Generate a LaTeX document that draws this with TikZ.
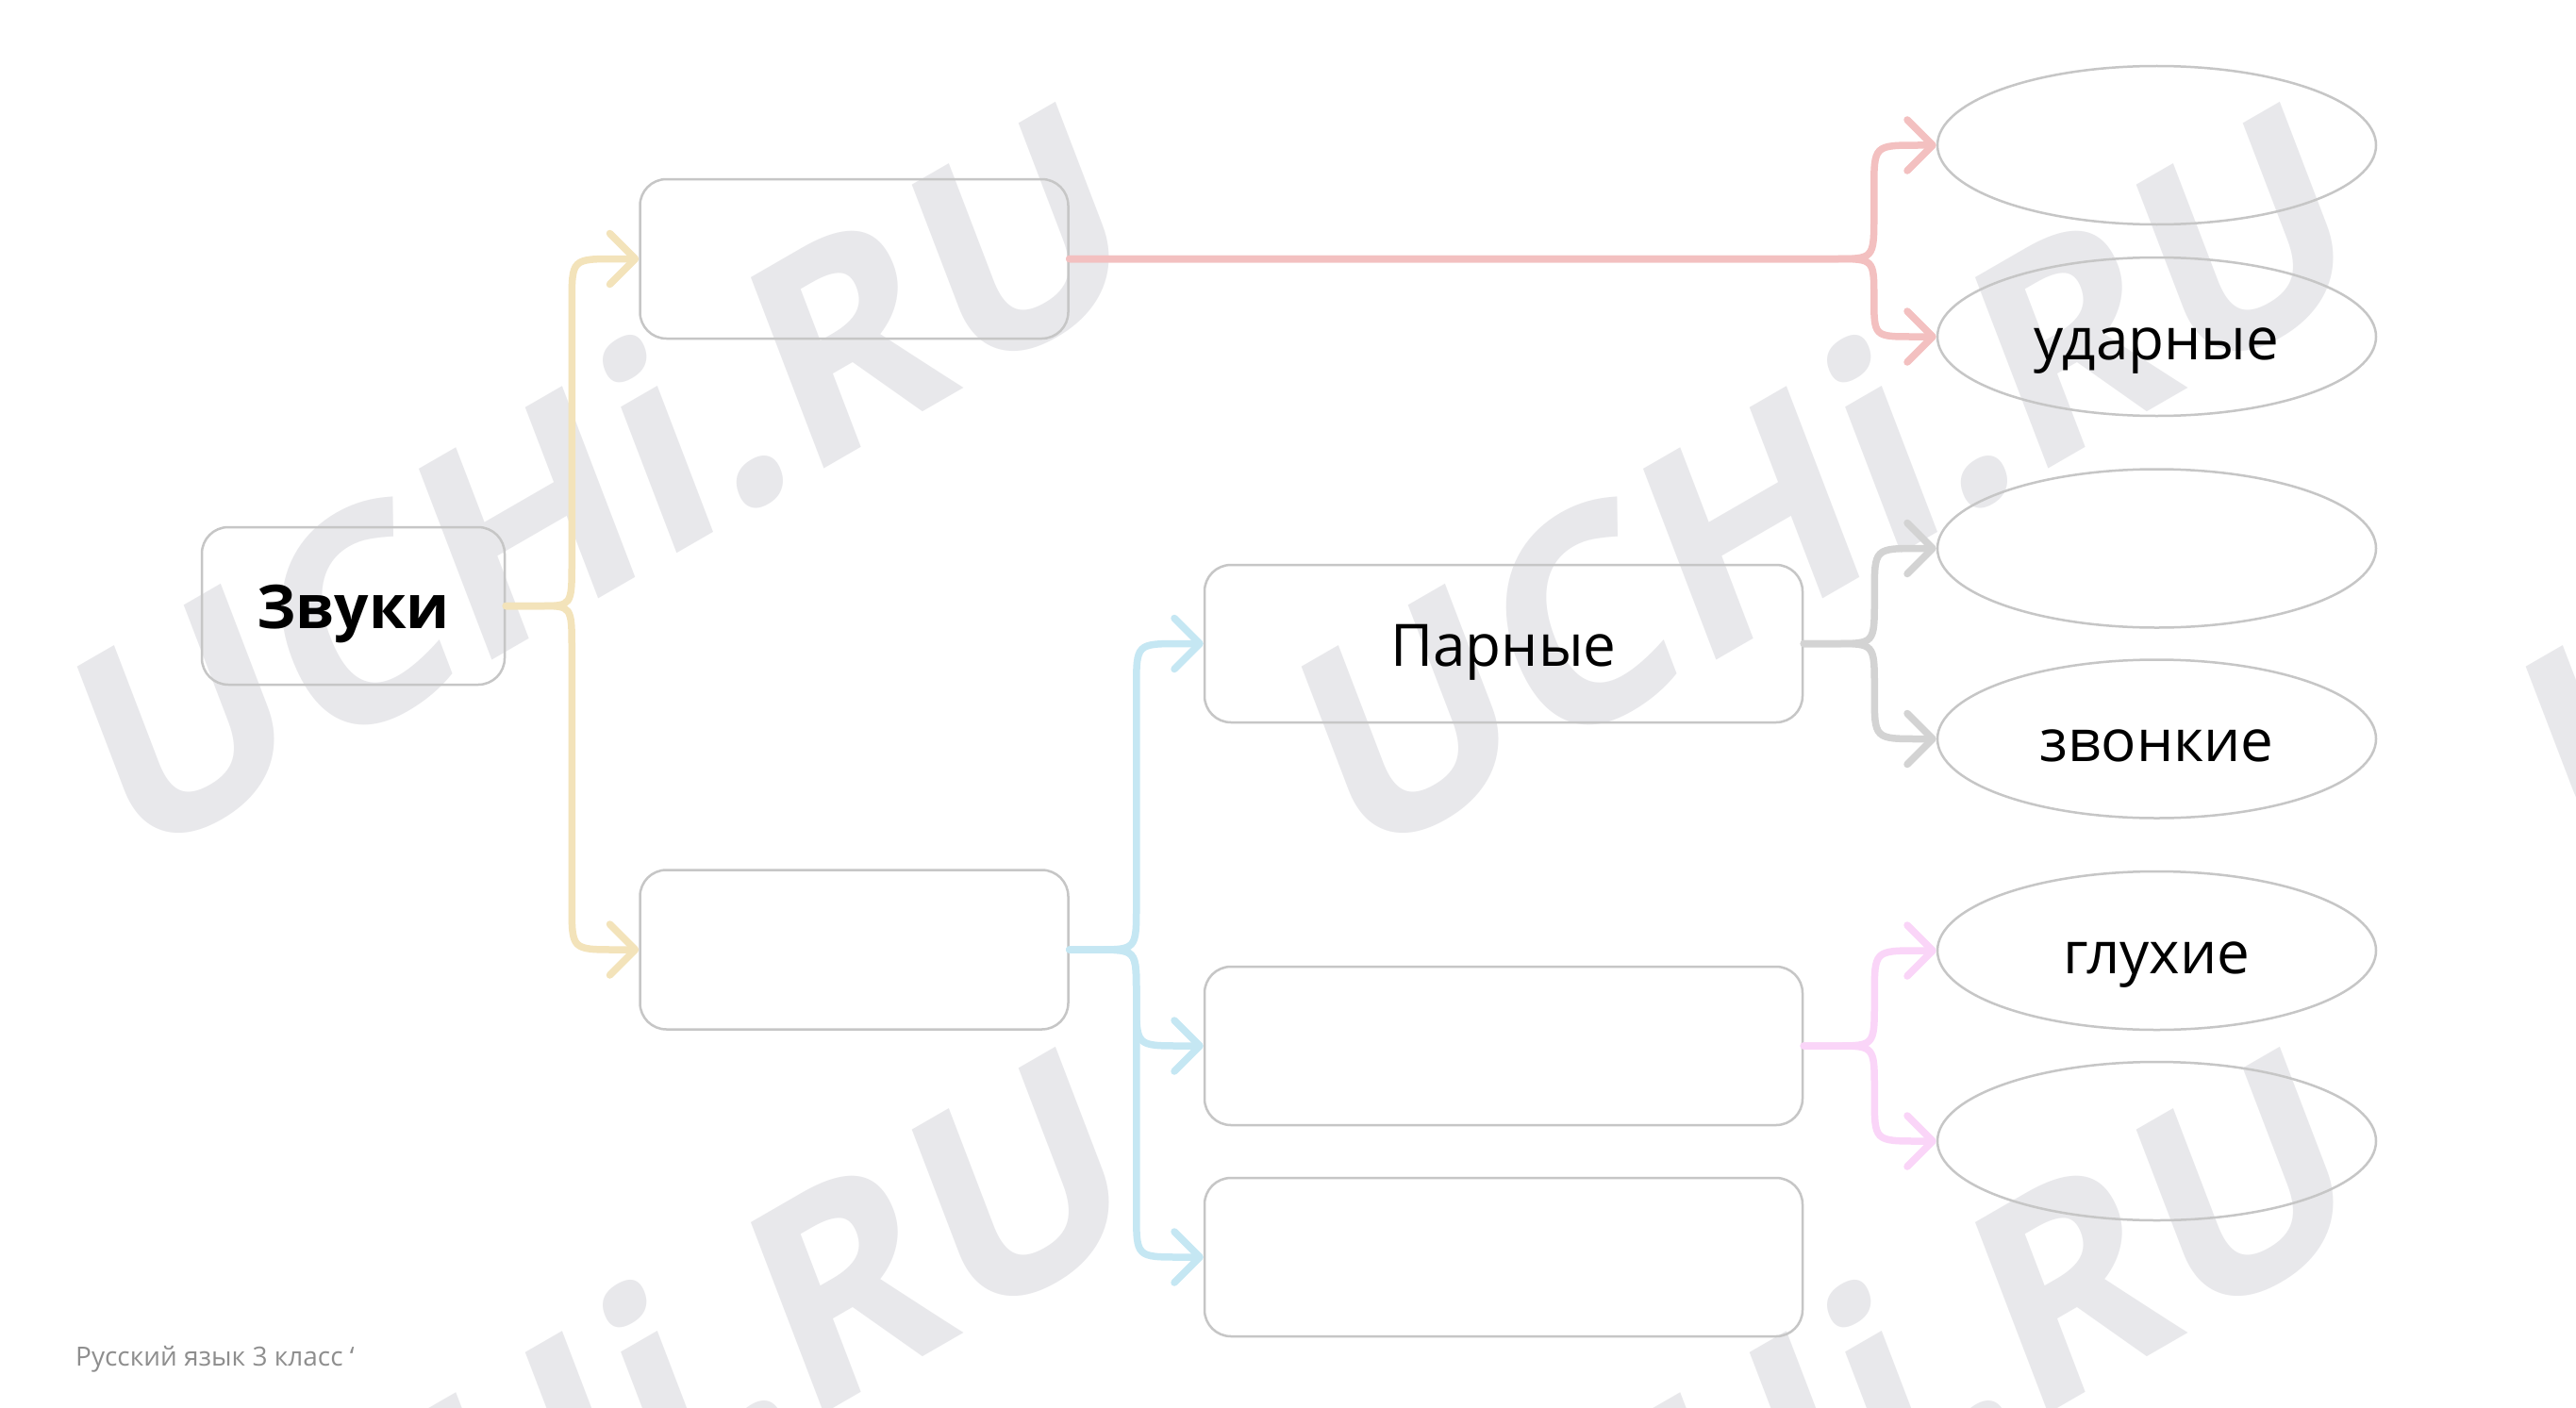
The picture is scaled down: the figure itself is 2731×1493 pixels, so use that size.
\documentclass[tikz,border=0pt]{standalone}
\usepackage{fontspec}
\setmainfont{Open Sans}
\usetikzlibrary{arrows.meta,shapes.geometric,calc}
\definecolor{boxgray}{HTML}{C6C6C6}
\definecolor{wmgray}{HTML}{E8E8EB}
\definecolor{ycol}{HTML}{F3E3BA}
\definecolor{pcol}{HTML}{F3C0C0}
\definecolor{bcol}{HTML}{C5E7F3}
\definecolor{gcol}{HTML}{D3D3D3}
\definecolor{mcol}{HTML}{FAD5F8}
\definecolor{footgray}{HTML}{8E8E8E}
\newcommand\branch[5]{%
  \draw[#1] let \p1=(#2.east), \p2=(#3.west), \n1={sign(\y2-\y1)}, \n2={min(47,abs(\y2-\y1)/2)} in
  (\p1) -- (\x1+#4pt,\y1) .. controls (\x1+#5pt,\y1) .. (\x1+#5pt,\y1+\n1*\n2*1pt)
  -- (\x1+#5pt,\y2-\n1*\n2*1pt) .. controls (\x1+#5pt,\y2) .. (\x1+#5pt+\n2*1pt,\y2) -- (\p2);}
\tikzset{
  box/.style={draw=boxgray, line width=2.5pt, rounded corners=28pt, inner sep=0pt,
    text height=48pt, text depth=0pt, font=\fontsize{62}{62}\selectfont},
  oval/.style={ellipse, draw=boxgray, line width=2.5pt, inner sep=0pt, minimum width=465pt,
    minimum height=168pt, text height=48pt, text depth=0pt, font=\fontsize{62}{62}\selectfont},
  conn/.style={line width=7.5pt, line cap=round, -{Straight Barb[length=27pt,width=54pt,round]}},
  wm/.style={text=wmgray, inner sep=0pt, font=\fontsize{300}{300}\selectfont\bfseries}
}
\begin{document}
\begin{tikzpicture}[x=1pt,y=-1pt]
\useasboundingbox (0,0) rectangle (2731,1493);
\clip (0,0) rectangle (2731,1493);
\fill[white] (0,0) rectangle (2731,1493);
% watermark
\foreach \wx/\wy [count=\k] in {678/610, 1976/610, 3274/610, 678/1612, 1976/1612, 3274/1612}{
  \begin{scope}[shift={(\wx,\wy)}, rotate=30, xslant=0.16]
    \node[wm, anchor=base, transform shape] (wm\k) at (0,0) {UCHi.RU};
  \end{scope}}
% boxes
\node[box, minimum width=321pt, minimum height=167pt, font=\fontsize{64}{64}\selectfont\bfseries] (zv) at (374.5,642.5) {Звуки};
\node[box, minimum width=454pt, minimum height=169pt] (b1) at (905.5,274.5) {};
\node[box, minimum width=454pt, minimum height=169pt] (b2) at (905.5,1007) {};
\node[box, minimum width=634pt, minimum height=167pt] (par) at (1594,682.5) {Парные};
\node[box, minimum width=634pt, minimum height=168pt] (b4) at (1594,1109) {};
\node[box, minimum width=634pt, minimum height=168pt] (b5) at (1594,1333) {};
% ellipses
\node[oval] (e1) at (2286.5,154) {};
\node[oval] (e2) at (2286.5,357) {ударные};
\node[oval] (e3) at (2286.5,581.5) {};
\node[oval] (e4) at (2286.5,783.5) {звонкие};
\node[oval] (e5) at (2286.5,1008) {глухие};
\node[oval] (e6) at (2286.5,1210) {};
% connectors
\branch{conn, draw=ycol}{zv}{b1}{37}{70}
\branch{conn, draw=ycol}{zv}{b2}{37}{70}
\branch{conn, draw=pcol}{b1}{e1}{812}{853}
\branch{conn, draw=pcol}{b1}{e2}{812}{853}
\branch{conn, draw=bcol}{b2}{par}{29}{71}
\branch{conn, draw=bcol}{b2}{b4}{29}{71}
\branch{conn, draw=bcol}{b2}{b5}{29}{71}
\branch{conn, draw=gcol}{par}{e3}{34}{75}
\branch{conn, draw=gcol}{par}{e4}{34}{75}
\branch{conn, draw=mcol}{b4}{e5}{34}{75}
\branch{conn, draw=mcol}{b4}{e6}{34}{75}
% footer
\node[anchor=base west, inner sep=0pt, text=footgray, font=\fontsize{28}{28}\selectfont] (foot) at (80,1448) {Русский язык 3 класс ‘};
\end{tikzpicture}
\end{document}
